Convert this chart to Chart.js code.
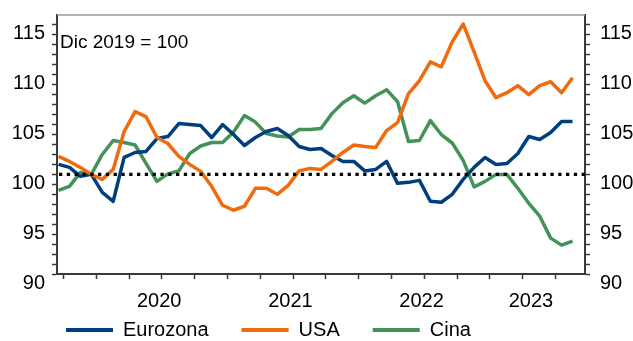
<!DOCTYPE html>
<html>
<head>
<meta charset="utf-8">
<script src="https://cdn.jsdelivr.net/npm/chart.js@4.4.1/dist/chart.umd.min.js"></script>
<style>
  html, body { margin: 0; padding: 0; background: #fff; }
  #wrap { width: 633px; height: 341px; }
</style>
</head>
<body>
<div id="wrap"><canvas id="indexChart" width="633" height="341"></canvas></div>
<script>
// Indici, Dic 2019 = 100 (mensile, set-2019 .. ago-2023)
var months = [
  'set-19', 'ott-19', 'nov-19', 'dic-19',
  'gen-20', 'feb-20', 'mar-20', 'apr-20', 'mag-20', 'giu-20', 'lug-20', 'ago-20', 'set-20', 'ott-20', 'nov-20', 'dic-20',
  'gen-21', 'feb-21', 'mar-21', 'apr-21', 'mag-21', 'giu-21', 'lug-21', 'ago-21', 'set-21', 'ott-21', 'nov-21', 'dic-21',
  'gen-22', 'feb-22', 'mar-22', 'apr-22', 'mag-22', 'giu-22', 'lug-22', 'ago-22', 'set-22', 'ott-22', 'nov-22', 'dic-22',
  'gen-23', 'feb-23', 'mar-23', 'apr-23', 'mag-23', 'giu-23', 'lug-23', 'ago-23'
];
var eurozona = [101.0, 100.7, 99.8, 100.0, 98.2, 97.3, 101.7, 102.2, 102.3, 103.6, 103.8, 105.1, 105.0, 104.9, 103.7, 105.0,
  104.0, 102.9, 103.7, 104.3, 104.6, 103.9, 102.8, 102.5, 102.6, 101.9, 101.3, 101.3, 100.35, 100.5, 101.3, 99.1,
  99.2, 99.4, 97.3, 97.2, 98.0, 99.5, 100.7, 101.7, 101.0, 101.1, 102.1, 103.8, 103.5, 104.2, 105.3, 105.3];
var usa = [101.8, 101.3, 100.7, 100.0, 99.5, 100.5, 104.3, 106.3, 105.8, 103.7, 103.1, 101.8, 101.0, 100.3, 98.8, 96.9,
  96.4, 96.8, 98.6, 98.6, 98.0, 98.9, 100.35, 100.6, 100.5, 101.3, 102.2, 102.95, 102.8, 102.7, 104.4, 105.2,
  108.1, 109.4, 111.3, 110.8, 113.3, 115.1, 112.3, 109.4, 107.7, 108.2, 108.9, 108.0, 108.9, 109.3, 108.2, 109.7];
var cina = [98.4, 98.8, 100.2, 100.0, 102.0, 103.4, 103.2, 102.95, 101.1, 99.3, 100.05, 100.35, 102.1, 102.85, 103.2, 103.2,
  104.25, 105.9, 105.25, 104.1, 103.85, 103.75, 104.5, 104.5, 104.6, 106.1, 107.2, 107.9, 107.15, 107.9, 108.5, 107.3,
  103.3, 103.4, 105.4, 104.0, 103.15, 101.4, 98.75, 99.3, 100.0, 100.0, 98.6, 97.1, 95.8, 93.6, 92.9, 93.3];
var seriesNames = ['Eurozona', 'USA', 'Cina'];
var yTicks = [90, 95, 100, 105, 110, 115];
var yearLabels = ['2020', '2021', '2022', '2023'];
var baseLabel = 'Dic 2019 = 100';

var FONT = "Arial, 'Liberation Sans', sans-serif";
var AXIS = '#3a3a3a';

// year label sits near the middle of that year's months, tick marks between quarters
var yearCenters = yearLabels.map(function(y) {
  var idx = [];
  months.forEach(function(m, i) { if (m.slice(-2) === y.slice(-2)) idx.push(i); });
  return (idx[0] + idx[idx.length - 1]) / 2 - 0.3;
});
var quarterTicks = [];
months.forEach(function(m, i) {
  var mm = m.slice(0, 3);
  if (mm === 'gen' || mm === 'apr' || mm === 'lug' || mm === 'ott') quarterTicks.push(i - 0.55);
});
var xTickValues = quarterTicks.concat(yearCenters).sort(function(a, b) { return a - b; });

function toPoints(arr) {
  return arr.map(function(v, i) { return { x: i, y: v }; });
}

var yAxis = function(pos, pad) {
  return {
    position: pos,
    min: 90, max: 116,
    afterBuildTicks: function(scale) {
      var t = [];
      for (var v = 90; v <= 115; v++) t.push({ value: v });
      scale.ticks = t;
    },
    ticks: {
      autoSkip: false,
      color: '#000',
      font: { family: FONT, size: 20 },
      padding: pad,
      labelOffset: 9,
      callback: function(v) { return yTicks.indexOf(v) >= 0 ? String(v) : ''; }
    },
    grid: { drawOnChartArea: false, tickLength: 5, tickWidth: 1.5, tickColor: AXIS },
    border: { color: AXIS, width: 2 },
    afterFit: function(scale) {
      scale.width = pos === 'left' ? 57 : 48;
      scale.paddingTop = 0;
      scale.paddingBottom = 0;
    }
  };
};

var decor = {
  id: 'decor',
  beforeLayout: function(chart) {
    // legend sits partly over the free space below the x labels
    var lg = chart.legend;
    if (lg && !lg._shortFit) {
      var fit = lg.fit;
      lg.fit = function() { fit.call(this); this.height = 31; };
      lg._shortFit = true;
    }
  },
  afterLayout: function(chart) {
    var lg = chart.legend;
    if (lg) { lg.left += 33; lg.top -= 23; }
  },
  afterDatasetsDraw: function(chart) {
    var ctx = chart.ctx, a = chart.chartArea;
    var y100 = chart.scales.y.getPixelForValue(100);
    ctx.save();
    ctx.strokeStyle = '#000';
    ctx.lineWidth = 3.3;
    ctx.setLineDash([3.3, 4.5]);
    ctx.beginPath();
    ctx.moveTo(a.left + 2, y100);
    ctx.lineTo(a.right, y100);
    ctx.stroke();
    ctx.setLineDash([]);
    ctx.strokeStyle = '#9a9a9a';
    ctx.lineWidth = 1.5;
    ctx.beginPath();
    ctx.moveTo(a.left, a.top);
    ctx.lineTo(a.right, a.top);
    ctx.stroke();
    ctx.fillStyle = '#000';
    ctx.font = '19px ' + FONT;
    ctx.textBaseline = 'middle';
    ctx.textAlign = 'left';
    ctx.fillText(baseLabel, a.left + 3, a.top + 28);
    ctx.restore();
  }
};

var colors = ['#003f7d', '#f06a0e', '#43925a'];
var drawOrder = [2, 1, 3];

new Chart(document.getElementById('indexChart').getContext('2d'), {
  type: 'line',
  data: {
    datasets: [eurozona, usa, cina].map(function(arr, i) {
      return {
        label: seriesNames[i],
        data: toPoints(arr),
        borderColor: colors[i],
        backgroundColor: colors[i],
        borderWidth: 3.5,
        pointRadius: 0,
        tension: 0,
        borderJoinStyle: 'round',
        order: drawOrder[i]
      };
    })
  },
  options: {
    responsive: false,
    animation: false,
    layout: { padding: { top: 15, left: 0, right: 0, bottom: 0 } },
    plugins: {
      legend: {
        position: 'bottom',
        align: 'start',
        labels: {
          boxWidth: 47,
          boxHeight: 4,
          padding: 33,
          color: '#000',
          font: { family: FONT, size: 20 },
          sort: function(a, b) { return a.datasetIndex - b.datasetIndex; },
          generateLabels: function(chart) {
            var items = Chart.defaults.plugins.legend.labels.generateLabels(chart);
            items.forEach(function(it) { it.lineWidth = 0; it.fillStyle = it.strokeStyle; });
            return items;
          }
        }
      },
      tooltip: {
        callbacks: {
          title: function(items) { return months[items[0].parsed.x]; }
        }
      }
    },
    scales: {
      x: {
        type: 'linear',
        bounds: 'data',
        min: -0.14, max: 48.14,
        afterBuildTicks: function(scale) {
          scale.ticks = xTickValues.map(function(v) { return { value: v }; });
        },
        ticks: {
          autoSkip: false,
          maxRotation: 0,
          padding: 10,
          color: '#000',
          font: { family: FONT, size: 20 },
          callback: function(v) {
            var k = yearCenters.indexOf(v);
            return k >= 0 ? yearLabels[k] : '';
          }
        },
        grid: {
          drawOnChartArea: false,
          tickLength: 5,
          tickWidth: 1.5,
          tickColor: function(c) {
            return c.tick && yearCenters.indexOf(c.tick.value) >= 0 ? 'rgba(0,0,0,0)' : AXIS;
          }
        },
        border: { color: AXIS, width: 2 },
        afterFit: function(scale) {
          scale.height = 36;
          scale.paddingLeft = 0;
          scale.paddingRight = 0;
        }
      },
      y: yAxis('left', 7),
      y2: yAxis('right', 10)
    }
  },
  plugins: [decor]
});
</script>
</body>
</html>
